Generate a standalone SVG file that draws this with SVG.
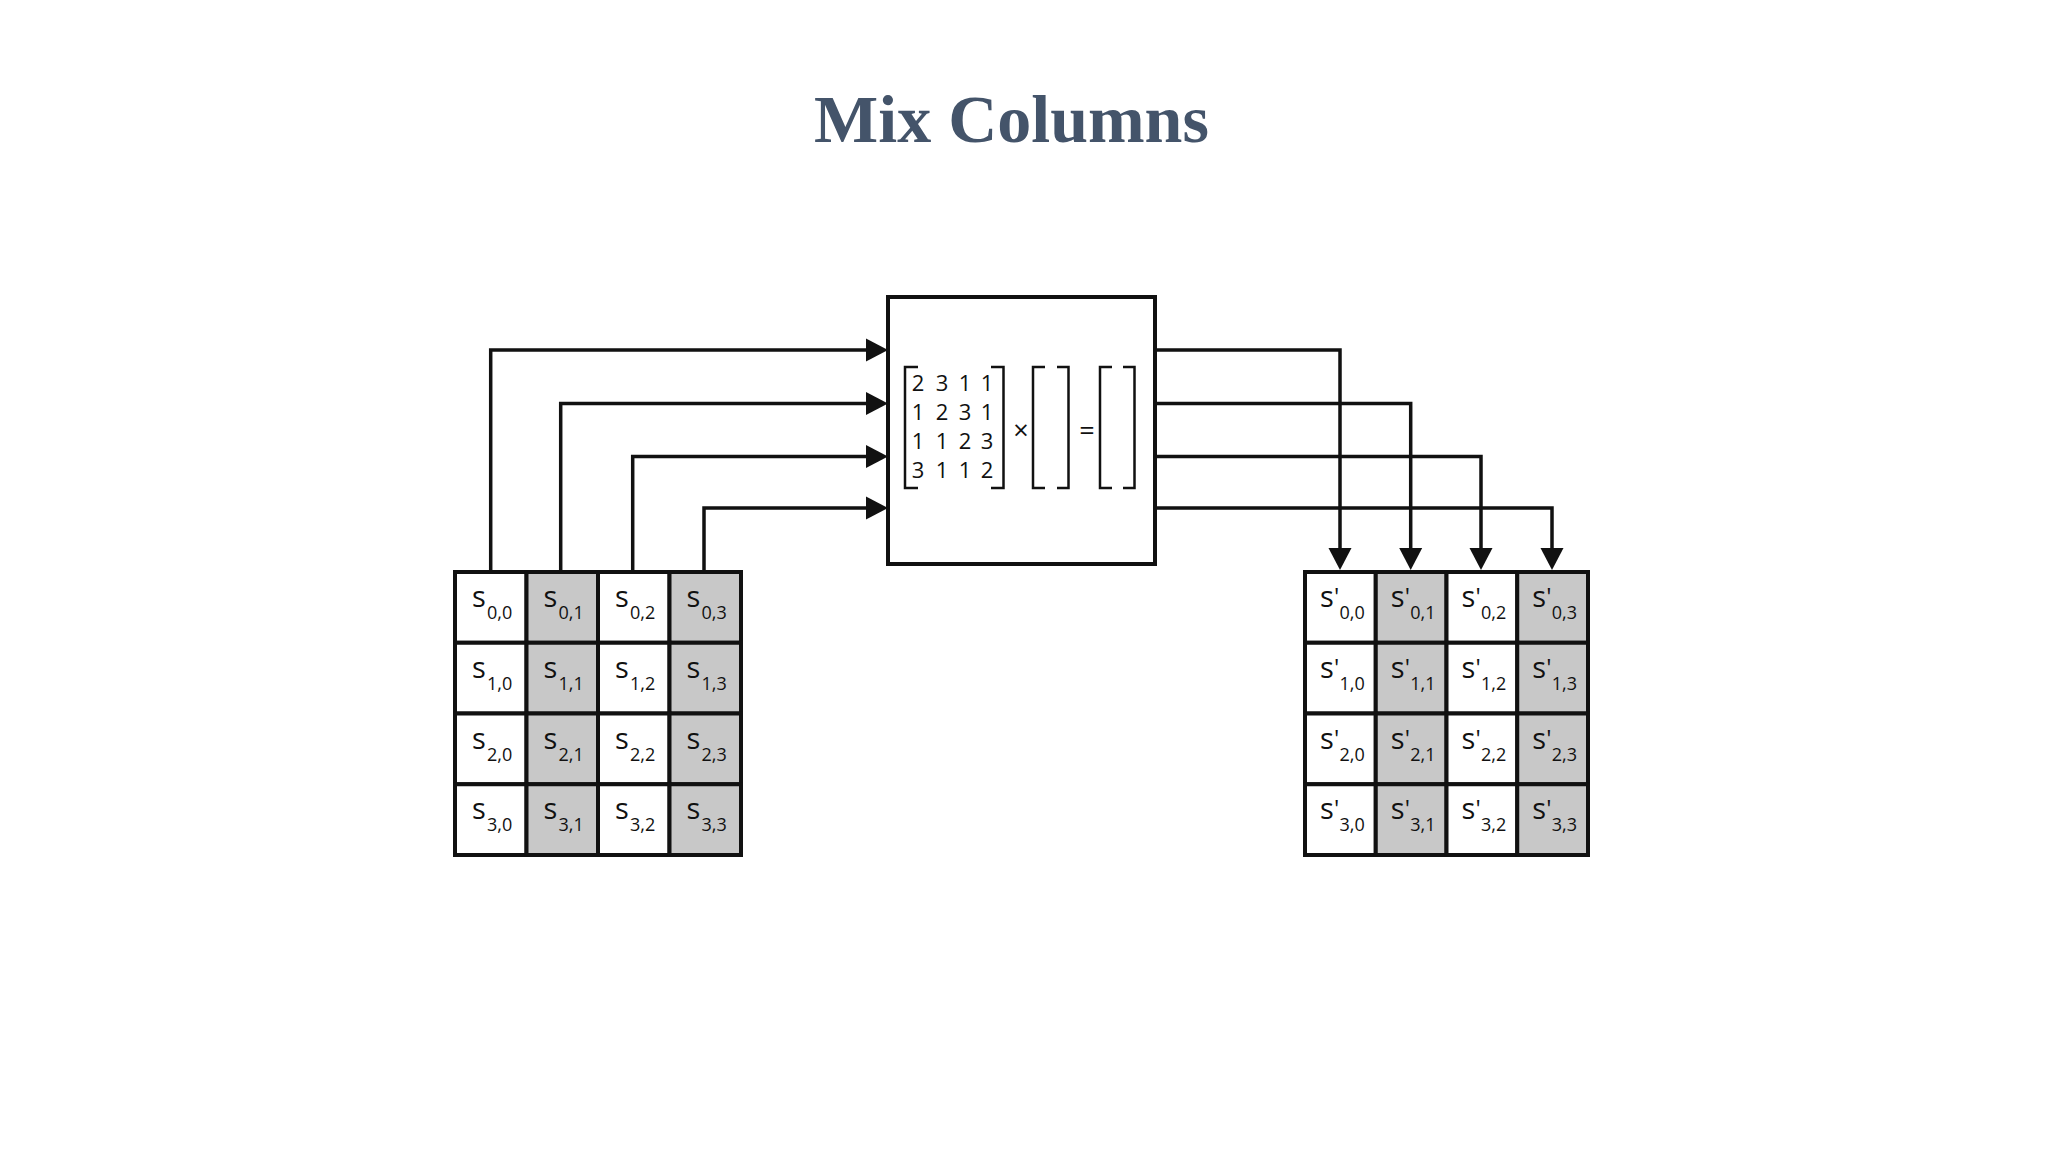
<svg xmlns="http://www.w3.org/2000/svg" width="2048" height="1152" viewBox="0 0 2048 1152">
<style>
.title{font-family:"Liberation Serif","Times New Roman",serif;font-weight:bold;font-size:68px;fill:#44546A}
.cell{stroke:#111;stroke-width:4}
.w{fill:#fff}
.g{fill:#c8c8c8}
.s{font-family:"Open Sans","Noto Sans",sans-serif;font-size:29px;fill:#111}
.sub{font-size:18px}
.pr{font-size:24px}
.box{fill:#fff;stroke:#111;stroke-width:4}
.num{font-family:"Open Sans","Noto Sans",sans-serif;font-size:22px;fill:#111;text-anchor:middle}
.op{font-family:"Open Sans","Noto Sans",sans-serif;font-size:27px;fill:#111;text-anchor:middle}
.br{fill:none;stroke:#111;stroke-width:2.5}
.conn{fill:none;stroke:#111;stroke-width:3.5}
.ah{fill:#111}
</style>
<rect width="2048" height="1152" fill="#fff"/>
<text class="title" x="1011.5" y="141.5" text-anchor="middle">Mix Columns</text>

<g id="connectors">
<path class="conn" d="M490.7,572 V350 H868"/>
<path class="conn" d="M560.7,572 V403.5 H868"/>
<path class="conn" d="M632.7,572 V456.5 H868"/>
<path class="conn" d="M704,572 V508 H868"/>
<polygon class="ah" points="866,338.5 888,350 866,361.5"/>
<polygon class="ah" points="866,392 888,403.5 866,415"/>
<polygon class="ah" points="866,445 888,456.5 866,468"/>
<polygon class="ah" points="866,496.5 888,508 866,519.5"/>
<path class="conn" d="M1155,350 H1340 V550"/>
<path class="conn" d="M1155,403.5 H1410.7 V550"/>
<path class="conn" d="M1155,456.5 H1481 V550"/>
<path class="conn" d="M1155,508 H1552 V550"/>
<polygon class="ah" points="1328.5,548 1351.5,548 1340,570"/>
<polygon class="ah" points="1399.2,548 1422.2,548 1410.7,570"/>
<polygon class="ah" points="1469.5,548 1492.5,548 1481,570"/>
<polygon class="ah" points="1540.5,548 1563.5,548 1552,570"/>
</g>

<g id="mix-box">
<rect class="box" x="888" y="297" width="267" height="267"/>
<path class="br" d="M918,367 H905 V488 H918"/>
<path class="br" d="M991,367 H1003.5 V488 H991"/>
<text class="num" y="390.7"><tspan x="918">2</tspan><tspan x="942">3</tspan><tspan x="965">1</tspan><tspan x="987">1</tspan></text>
<text class="num" y="420"><tspan x="918">1</tspan><tspan x="942">2</tspan><tspan x="965">3</tspan><tspan x="987">1</tspan></text>
<text class="num" y="448.5"><tspan x="918">1</tspan><tspan x="942">1</tspan><tspan x="965">2</tspan><tspan x="987">3</tspan></text>
<text class="num" y="478"><tspan x="918">3</tspan><tspan x="942">1</tspan><tspan x="965">1</tspan><tspan x="987">2</tspan></text>
<text class="op" x="1021" y="440">×</text>
<path class="br" d="M1045,367 H1033 V488 H1045"/>
<path class="br" d="M1057,367 H1068.5 V488 H1057"/>
<text class="op" x="1087" y="440">=</text>
<path class="br" d="M1112,367 H1100 V488 H1112"/>
<path class="br" d="M1123,367 H1134.5 V488 H1123"/>
</g>

<g id="state-in">
<g id="s00"><rect class="cell w" x="455" y="572" width="71.5" height="70.75"/><text class="s" x="472" y="607">s<tspan class="sub" x="487" y="619">0,0</tspan></text></g>
<g id="s01"><rect class="cell g" x="526.5" y="572" width="71.5" height="70.75"/><text class="s" x="543.5" y="607">s<tspan class="sub" x="558.5" y="619">0,1</tspan></text></g>
<g id="s02"><rect class="cell w" x="598" y="572" width="71.5" height="70.75"/><text class="s" x="615" y="607">s<tspan class="sub" x="630" y="619">0,2</tspan></text></g>
<g id="s03"><rect class="cell g" x="669.5" y="572" width="71.5" height="70.75"/><text class="s" x="686.5" y="607">s<tspan class="sub" x="701.5" y="619">0,3</tspan></text></g>
<g id="s10"><rect class="cell w" x="455" y="642.75" width="71.5" height="70.75"/><text class="s" x="472" y="677.75">s<tspan class="sub" x="487" y="689.75">1,0</tspan></text></g>
<g id="s11"><rect class="cell g" x="526.5" y="642.75" width="71.5" height="70.75"/><text class="s" x="543.5" y="677.75">s<tspan class="sub" x="558.5" y="689.75">1,1</tspan></text></g>
<g id="s12"><rect class="cell w" x="598" y="642.75" width="71.5" height="70.75"/><text class="s" x="615" y="677.75">s<tspan class="sub" x="630" y="689.75">1,2</tspan></text></g>
<g id="s13"><rect class="cell g" x="669.5" y="642.75" width="71.5" height="70.75"/><text class="s" x="686.5" y="677.75">s<tspan class="sub" x="701.5" y="689.75">1,3</tspan></text></g>
<g id="s20"><rect class="cell w" x="455" y="713.5" width="71.5" height="70.75"/><text class="s" x="472" y="748.5">s<tspan class="sub" x="487" y="760.5">2,0</tspan></text></g>
<g id="s21"><rect class="cell g" x="526.5" y="713.5" width="71.5" height="70.75"/><text class="s" x="543.5" y="748.5">s<tspan class="sub" x="558.5" y="760.5">2,1</tspan></text></g>
<g id="s22"><rect class="cell w" x="598" y="713.5" width="71.5" height="70.75"/><text class="s" x="615" y="748.5">s<tspan class="sub" x="630" y="760.5">2,2</tspan></text></g>
<g id="s23"><rect class="cell g" x="669.5" y="713.5" width="71.5" height="70.75"/><text class="s" x="686.5" y="748.5">s<tspan class="sub" x="701.5" y="760.5">2,3</tspan></text></g>
<g id="s30"><rect class="cell w" x="455" y="784.25" width="71.5" height="70.75"/><text class="s" x="472" y="819.25">s<tspan class="sub" x="487" y="831.25">3,0</tspan></text></g>
<g id="s31"><rect class="cell g" x="526.5" y="784.25" width="71.5" height="70.75"/><text class="s" x="543.5" y="819.25">s<tspan class="sub" x="558.5" y="831.25">3,1</tspan></text></g>
<g id="s32"><rect class="cell w" x="598" y="784.25" width="71.5" height="70.75"/><text class="s" x="615" y="819.25">s<tspan class="sub" x="630" y="831.25">3,2</tspan></text></g>
<g id="s33"><rect class="cell g" x="669.5" y="784.25" width="71.5" height="70.75"/><text class="s" x="686.5" y="819.25">s<tspan class="sub" x="701.5" y="831.25">3,3</tspan></text></g>
</g>

<g id="state-out">
<g id="t00"><rect class="cell w" x="1305" y="572" width="70.75" height="70.75"/><text class="s" x="1320" y="607">s<tspan class="pr" x="1334" y="605">'</tspan><tspan class="sub" x="1339.5" y="619">0,0</tspan></text></g>
<g id="t01"><rect class="cell g" x="1375.75" y="572" width="70.75" height="70.75"/><text class="s" x="1390.75" y="607">s<tspan class="pr" x="1404.75" y="605">'</tspan><tspan class="sub" x="1410.25" y="619">0,1</tspan></text></g>
<g id="t02"><rect class="cell w" x="1446.5" y="572" width="70.75" height="70.75"/><text class="s" x="1461.5" y="607">s<tspan class="pr" x="1475.5" y="605">'</tspan><tspan class="sub" x="1481" y="619">0,2</tspan></text></g>
<g id="t03"><rect class="cell g" x="1517.25" y="572" width="70.75" height="70.75"/><text class="s" x="1532.25" y="607">s<tspan class="pr" x="1546.25" y="605">'</tspan><tspan class="sub" x="1551.75" y="619">0,3</tspan></text></g>
<g id="t10"><rect class="cell w" x="1305" y="642.75" width="70.75" height="70.75"/><text class="s" x="1320" y="677.75">s<tspan class="pr" x="1334" y="675.75">'</tspan><tspan class="sub" x="1339.5" y="689.75">1,0</tspan></text></g>
<g id="t11"><rect class="cell g" x="1375.75" y="642.75" width="70.75" height="70.75"/><text class="s" x="1390.75" y="677.75">s<tspan class="pr" x="1404.75" y="675.75">'</tspan><tspan class="sub" x="1410.25" y="689.75">1,1</tspan></text></g>
<g id="t12"><rect class="cell w" x="1446.5" y="642.75" width="70.75" height="70.75"/><text class="s" x="1461.5" y="677.75">s<tspan class="pr" x="1475.5" y="675.75">'</tspan><tspan class="sub" x="1481" y="689.75">1,2</tspan></text></g>
<g id="t13"><rect class="cell g" x="1517.25" y="642.75" width="70.75" height="70.75"/><text class="s" x="1532.25" y="677.75">s<tspan class="pr" x="1546.25" y="675.75">'</tspan><tspan class="sub" x="1551.75" y="689.75">1,3</tspan></text></g>
<g id="t20"><rect class="cell w" x="1305" y="713.5" width="70.75" height="70.75"/><text class="s" x="1320" y="748.5">s<tspan class="pr" x="1334" y="746.5">'</tspan><tspan class="sub" x="1339.5" y="760.5">2,0</tspan></text></g>
<g id="t21"><rect class="cell g" x="1375.75" y="713.5" width="70.75" height="70.75"/><text class="s" x="1390.75" y="748.5">s<tspan class="pr" x="1404.75" y="746.5">'</tspan><tspan class="sub" x="1410.25" y="760.5">2,1</tspan></text></g>
<g id="t22"><rect class="cell w" x="1446.5" y="713.5" width="70.75" height="70.75"/><text class="s" x="1461.5" y="748.5">s<tspan class="pr" x="1475.5" y="746.5">'</tspan><tspan class="sub" x="1481" y="760.5">2,2</tspan></text></g>
<g id="t23"><rect class="cell g" x="1517.25" y="713.5" width="70.75" height="70.75"/><text class="s" x="1532.25" y="748.5">s<tspan class="pr" x="1546.25" y="746.5">'</tspan><tspan class="sub" x="1551.75" y="760.5">2,3</tspan></text></g>
<g id="t30"><rect class="cell w" x="1305" y="784.25" width="70.75" height="70.75"/><text class="s" x="1320" y="819.25">s<tspan class="pr" x="1334" y="817.25">'</tspan><tspan class="sub" x="1339.5" y="831.25">3,0</tspan></text></g>
<g id="t31"><rect class="cell g" x="1375.75" y="784.25" width="70.75" height="70.75"/><text class="s" x="1390.75" y="819.25">s<tspan class="pr" x="1404.75" y="817.25">'</tspan><tspan class="sub" x="1410.25" y="831.25">3,1</tspan></text></g>
<g id="t32"><rect class="cell w" x="1446.5" y="784.25" width="70.75" height="70.75"/><text class="s" x="1461.5" y="819.25">s<tspan class="pr" x="1475.5" y="817.25">'</tspan><tspan class="sub" x="1481" y="831.25">3,2</tspan></text></g>
<g id="t33"><rect class="cell g" x="1517.25" y="784.25" width="70.75" height="70.75"/><text class="s" x="1532.25" y="819.25">s<tspan class="pr" x="1546.25" y="817.25">'</tspan><tspan class="sub" x="1551.75" y="831.25">3,3</tspan></text></g>
</g>
</svg>
